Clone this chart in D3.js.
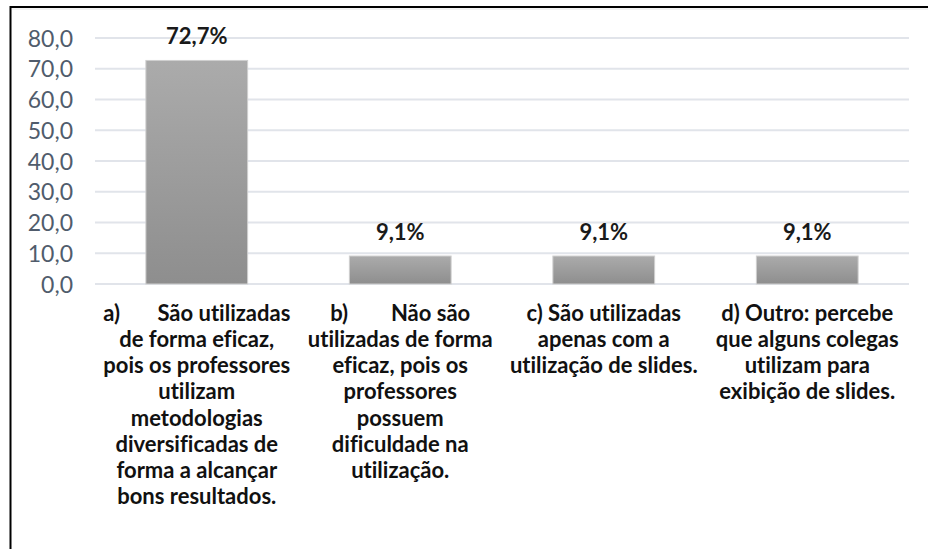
<!DOCTYPE html>
<html>
<head>
<meta charset="utf-8">
<script src="https://cdn.jsdelivr.net/npm/d3@7"></script>
<style>
  html, body { margin: 0; padding: 0; background: #fff; }
  svg { display: block; }
  text { font-variant-ligatures: none; font-feature-settings: "liga" 0; }
</style>
</head>
<body>
<svg id="chart" width="928" height="549"></svg>
<script>
// ---- data ----
const categories = ["a", "b", "c", "d"];
const categoryLines = [
  ["a)       São utilizadas", "de forma eficaz,", "pois os professores", "utilizam", "metodologias", "diversificadas de", "forma a alcançar", "bons resultados."],
  ["b)        Não são", "utilizadas de forma", "eficaz, pois os", "professores", "possuem", "dificuldade na", "utilização."],
  ["c) São utilizadas", "apenas com a", "utilização de slides."],
  ["d) Outro: percebe", "que alguns colegas", "utilizam para", "exibição de slides."]
];
const values = [72.7, 9.1, 9.1, 9.1];
const valueLabels = ["72,7%", "9,1%", "9,1%", "9,1%"];
const yTicks = [0, 10, 20, 30, 40, 50, 60, 70, 80];

// ---- layout ----
const svg = d3.select("#chart");
const plotLeft = 95, plotRight = 909, plotTop = 38, plotBottom = 284;

const x = d3.scaleBand().domain(categories).range([plotLeft, plotRight]).paddingInner(0.5).paddingOuter(0.25);
const y = d3.scaleLinear().domain([0, 80]).range([plotBottom, plotTop]);

// frame (top & left)
svg.append("line").attr("x1", 10.5).attr("x2", 928).attr("y1", 7).attr("y2", 7)
  .attr("stroke", "#000").attr("stroke-width", 2);
svg.append("line").attr("x1", 10.5).attr("x2", 10.5).attr("y1", 6).attr("y2", 549)
  .attr("stroke", "#000").attr("stroke-width", 2);
svg.append("line").attr("x1", 12).attr("x2", 928).attr("y1", 9).attr("y2", 9)
  .attr("stroke", "#e6e6e6").attr("stroke-width", 1);

// gradient
const defs = svg.append("defs");
const grad = defs.append("linearGradient").attr("id", "barGrad")
  .attr("x1", 0).attr("y1", 0).attr("x2", 0).attr("y2", 1);
grad.append("stop").attr("offset", "0%").attr("stop-color", "#ababab");
grad.append("stop").attr("offset", "100%").attr("stop-color", "#8e8e8e");

// gridlines
svg.append("g").selectAll("line").data(yTicks).join("line")
  .attr("x1", plotLeft).attr("x2", plotRight)
  .attr("y1", d => y(d)).attr("y2", d => y(d))
  .attr("stroke", "#e1e4ea").attr("stroke-width", 2);

// y axis labels
const yAxis = d3.axisLeft(y).tickValues(yTicks).tickSize(0).tickPadding(0)
  .tickFormat(d => d3.format(".1f")(d).replace(".", ","));
const gy = svg.append("g").attr("transform", `translate(${73},0)`).call(yAxis);
gy.select(".domain").remove();
gy.selectAll("text").attr("font-family", "Lato, sans-serif").attr("font-size", 23)
  .attr("fill", "#505c6c").attr("dy", "0.35em");

// bars
svg.append("g").selectAll("rect").data(values).join("rect")
  .attr("x", (d, i) => x(categories[i]))
  .attr("width", x.bandwidth())
  .attr("y", d => y(d))
  .attr("height", d => y(0) - y(d))
  .attr("fill", "url(#barGrad)")
  .attr("stroke", "#cfcfcf").attr("stroke-width", 1);

// value labels
svg.append("g").selectAll("text").data(values).join("text")
  .attr("x", (d, i) => x(categories[i]) + x.bandwidth() / 2)
  .attr("y", d => y(d) - 24)
  .attr("dy", "0.35em")
  .attr("text-anchor", "middle")
  .attr("font-family", "Lato, sans-serif").attr("font-weight", "bold").attr("font-size", 22)
  .attr("fill", "#1a1a1a")
  .text((d, i) => valueLabels[i]);

// category labels
const cat = svg.append("g").selectAll("text").data(categoryLines).join("text")
  .attr("text-anchor", "middle")
  .attr("font-family", "Lato, sans-serif").attr("font-weight", "bold").attr("font-size", 22)
  .attr("fill", "#111")
  .style("white-space", "pre");
cat.each(function(lines, i) {
  const cx = x(categories[i]) + x.bandwidth() / 2;
  d3.select(this).selectAll("tspan").data(lines).join("tspan")
    .attr("x", cx)
    .attr("y", (d, j) => 313 + j * 26.2)
    .attr("dy", "0.35em")
    .text(d => d);
});
</script>
</body>
</html>
